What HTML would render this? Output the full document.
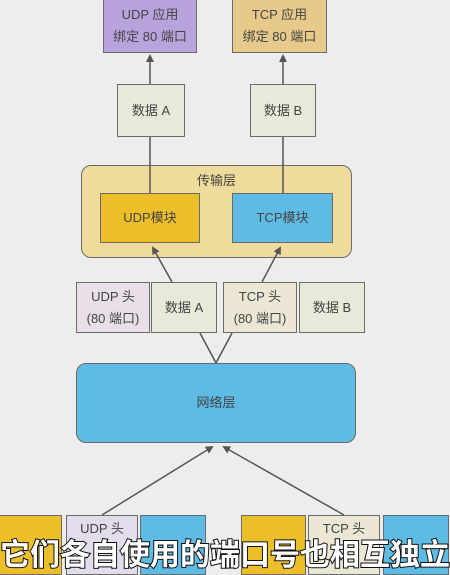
<!DOCTYPE html>
<html><head><meta charset="utf-8"><style>
body{margin:0;width:450px;height:563px;background:#ededed;position:relative;overflow:hidden;font-family:"Liberation Sans","Noto Sans CJK SC",sans-serif;color:#444;}
.b{position:absolute;box-sizing:border-box;border:1.5px solid #6b6b6b;display:flex;align-items:center;justify-content:center;text-align:center;font-size:13px;line-height:22px;}
svg{position:absolute;left:0;top:0}
.sub{position:absolute;left:0;top:532px;width:450px;text-align:center;font-size:30px;font-weight:bold;color:#fff;white-space:nowrap;-webkit-text-stroke:2px #111;paint-order:stroke fill;font-family:"Noto Sans CJK SC",sans-serif;line-height:40px}
</style></head><body>
<div class="b" style="left:103px;top:-2px;width:94px;height:55px;background:#b9a3dc">UDP 应用<br>绑定 80 端口</div>
<div class="b" style="left:232px;top:-2px;width:95px;height:55px;background:#e6c98b">TCP 应用<br>绑定 80 端口</div>
<div class="b" style="left:117px;top:84px;width:68px;height:53px;background:#e8ead9">数据 A</div>
<div class="b" style="left:250px;top:84px;width:66px;height:53px;background:#e8ead9">数据 B</div>
<div class="b" style="left:81px;top:165px;width:271px;height:93px;background:#efdc9c;border-radius:10px;align-items:flex-start;padding-top:4px">传输层</div>
<div class="b" style="left:100px;top:193px;width:100px;height:50px;background:#ecbf2a">UDP模块</div>
<div class="b" style="left:232px;top:193px;width:101px;height:50px;background:#5ebbe3">TCP模块</div>
<div class="b" style="left:76px;top:282px;width:74px;height:51px;background:#e8dfe8">UDP 头<br>(80 端口)</div>
<div class="b" style="left:151px;top:282px;width:66px;height:51px;background:#e8ead9">数据 A</div>
<div class="b" style="left:223px;top:282px;width:74px;height:51px;background:#ece6d5">TCP 头<br>(80 端口)</div>
<div class="b" style="left:299px;top:282px;width:66px;height:51px;background:#e8ead9">数据 B</div>
<div class="b" style="left:76px;top:363px;width:280px;height:80px;background:#5ebbe3;border-radius:10px">网络层</div>
<div class="b" style="left:-2px;top:515px;width:64px;height:60px;background:#ecbf2a"></div>
<div class="b" style="left:66px;top:515px;width:72px;height:60px;background:#e3dcea;align-items:flex-start;padding-top:2px">UDP 头</div>
<div class="b" style="left:140px;top:515px;width:66px;height:60px;background:#5ebbe3"></div>
<div class="b" style="left:241px;top:515px;width:65px;height:60px;background:#ecbf2a"></div>
<div class="b" style="left:308px;top:515px;width:72px;height:60px;background:#ece6d5;align-items:flex-start;padding-top:2px">TCP 头</div>
<div class="b" style="left:383px;top:515px;width:66px;height:60px;background:#5ebbe3"></div>
<svg width="450" height="563">
<defs><marker id="a" markerWidth="8" markerHeight="8" refX="6" refY="4" orient="auto" markerUnits="userSpaceOnUse"><path d="M0,0 L8,4 L0,8z" fill="#555"/></marker></defs>
<g stroke="#555" stroke-width="1.5" fill="none">
<line x1="150" y1="84" x2="150" y2="56" marker-end="url(#a)"/>
<line x1="283" y1="84" x2="283" y2="56" marker-end="url(#a)"/>
<line x1="150" y1="137" x2="150" y2="193"/>
<line x1="283" y1="137" x2="283" y2="193"/>
<line x1="172" y1="282" x2="153" y2="248" marker-end="url(#a)"/>
<line x1="262" y1="282" x2="280" y2="248" marker-end="url(#a)"/>
<line x1="216" y1="363" x2="200" y2="333"/>
<line x1="216" y1="363" x2="232" y2="333"/>
<line x1="102" y1="515" x2="212" y2="447" marker-end="url(#a)"/>
<line x1="344" y1="515" x2="224" y2="447" marker-end="url(#a)"/>
</g></svg>
<div class="sub">它们各自使用的端口号也相互独立</div>
</body></html>
